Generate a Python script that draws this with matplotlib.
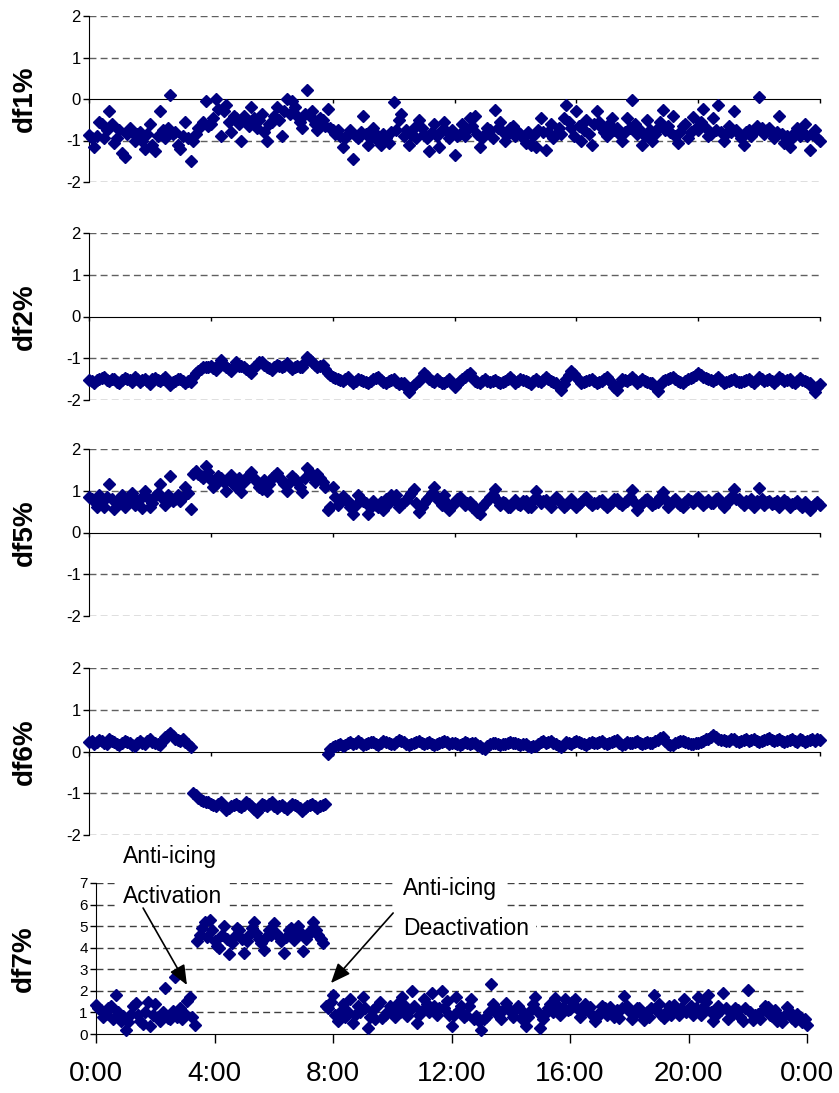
import numpy as np
import matplotlib
matplotlib.use('Agg')
import matplotlib.pyplot as plt

plt.rcParams['font.family'] = ['Liberation Sans', 'DejaVu Sans']
plt.rcParams['axes.unicode_minus'] = False

# 5-minute samples over one day
minutes = np.arange(0, 24 * 60 + 1, 5)
hours = minutes / 60.0

df1 = [-0.87, -0.95, -1.15, -0.9, -0.55, -0.6, -0.95, -0.75, -0.3, -0.6, -1.05, -0.95, -0.75, -1.3, -1.4, -0.85, -0.7, -0.8, -1.0, -0.85,
       -0.8, -1.0, -1.2, -0.85, -0.6, -1.1, -1.25, -0.9, -0.3, -0.75, -0.95, -0.7, 0.1, -0.85, -0.8, -1.1, -1.2, -0.9, -0.55, -0.95,
       -1.5, -1.0, -0.85, -0.7, -0.65, -0.55, -0.05, -0.65, -0.6, -0.45, 0.0, -0.25, -0.9, -0.3, -0.15, -0.55, -0.8, -0.4, -0.45, -0.6,
       -1.0, -0.4, -0.55, -0.65, -0.2, -0.45, -0.7, -0.5, -0.35, -0.8, -1.0, -0.6, -0.55, -0.4, -0.2, -0.5, -0.9, -0.3, 0.0, -0.35,
       -0.05, -0.2, -0.4, -0.55, -0.7, -0.35, 0.22, -0.4, -0.3, -0.6, -0.75, -0.45, -0.5, -0.65, -0.25, -0.7, -0.75, -0.85, -0.75, -0.9,
       -1.15, -0.95, -0.85, -0.75, -1.45, -0.9, -0.95, -0.8, -0.4, -0.85, -1.1, -0.95, -0.7, -0.85, -1.0, -1.1, -0.85, -0.95, -1.05, -0.8,
       -0.07, -0.75, -0.5, -0.35, -0.9, -0.75, -1.1, -0.85, -0.7, -0.95, -0.5, -0.7, -0.85, -0.95, -1.25, -0.8, -0.6, -0.9, -1.15, -0.75,
       -0.55, -0.8, -0.95, -0.75, -1.35, -0.9, -0.85, -0.6, -0.9, -0.75, -0.45, -0.65, -0.4, -0.85, -1.15, -0.95, -0.85, -0.7, -0.75, -0.95,
       -0.27, -0.7, -0.55, -0.8, -1.0, -0.85, -0.7, -0.65, -0.9, -0.8, -0.85, -0.95, -1.05, -0.8, -1.1, -0.9, -1.15, -0.75, -0.45, -0.8,
       -1.23, -0.8, -0.6, -0.95, -0.85, -0.7, -0.85, -0.45, -0.15, -0.55, -0.7, -0.9, -0.28, -0.65, -1.0, -0.75, -0.5, -0.85, -1.1, -0.6,
       -0.3, -0.55, -0.7, -0.8, -0.9, -0.6, -0.45, -0.75, -0.7, -0.85, -1.0, -0.8, -0.45, -0.7, -0.03, -0.6, -0.85, -0.75, -1.1, -0.9,
       -0.5, -0.75, -1.0, -0.85, -0.7, -0.55, -0.27, -0.75, -0.65, -0.8, -0.4, -0.9, -1.07, -0.8, -0.65, -0.6, -0.95, -0.8, -0.43, -0.7,
       -0.75, -0.55, -0.25, -0.7, -0.9, -0.85, -0.45, -0.75, -0.15, -0.8, -1.0, -0.85, -0.65, -0.8, -0.3, -0.75, -0.85, -0.95, -1.1, -0.8,
       -0.75, -0.9, -0.8, -0.65, 0.05, -0.7, -0.85, -0.75, -0.7, -0.85, -0.95, -0.8, -0.4, -0.85, -1.07, -0.9, -1.15, -0.95, -0.8, -0.7,
       -0.9, -0.8, -0.6, -0.9, -1.23, -0.85, -0.75, -0.95, -1.0]

df2 = [-1.52, -1.55, -1.6, -1.52, -1.5, -1.48, -1.45, -1.52, -1.55, -1.5, -1.5, -1.56, -1.6, -1.52, -1.48, -1.5, -1.52, -1.58, -1.45, -1.5,
       -1.58, -1.52, -1.5, -1.55, -1.62, -1.5, -1.48, -1.53, -1.55, -1.5, -1.45, -1.58, -1.65, -1.56, -1.55, -1.5, -1.5, -1.55, -1.6, -1.55,
       -1.58, -1.45, -1.35, -1.3, -1.25, -1.22, -1.22, -1.2, -1.18, -1.24, -1.28, -1.15, -1.05, -1.15, -1.2, -1.25, -1.3, -1.2, -1.1, -1.18,
       -1.18, -1.2, -1.25, -1.3, -1.35, -1.22, -1.15, -1.1, -1.08, -1.15, -1.2, -1.24, -1.28, -1.2, -1.15, -1.18, -1.22, -1.18, -1.12, -1.2,
       -1.25, -1.2, -1.18, -1.22, -1.2, -1.1, -0.97, -1.05, -1.1, -1.15, -1.22, -1.18, -1.15, -1.25, -1.35, -1.4, -1.45, -1.48, -1.5, -1.52,
       -1.55, -1.5, -1.45, -1.52, -1.6, -1.55, -1.5, -1.52, -1.55, -1.58, -1.6, -1.55, -1.5, -1.48, -1.45, -1.52, -1.58, -1.6, -1.55, -1.52,
       -1.5, -1.58, -1.62, -1.6, -1.6, -1.7, -1.82, -1.72, -1.65, -1.6, -1.55, -1.45, -1.35, -1.42, -1.5, -1.55, -1.58, -1.5, -1.55, -1.6,
       -1.6, -1.55, -1.5, -1.6, -1.7, -1.62, -1.55, -1.5, -1.45, -1.4, -1.35, -1.45, -1.55, -1.58, -1.6, -1.55, -1.5, -1.55, -1.58, -1.55,
       -1.52, -1.56, -1.6, -1.58, -1.55, -1.5, -1.45, -1.52, -1.6, -1.55, -1.5, -1.53, -1.55, -1.58, -1.62, -1.55, -1.5, -1.55, -1.58, -1.52,
       -1.45, -1.5, -1.55, -1.58, -1.6, -1.68, -1.75, -1.62, -1.5, -1.4, -1.3, -1.38, -1.45, -1.52, -1.6, -1.58, -1.55, -1.52, -1.5, -1.55,
       -1.6, -1.58, -1.55, -1.5, -1.45, -1.52, -1.6, -1.68, -1.75, -1.62, -1.5, -1.52, -1.55, -1.5, -1.45, -1.52, -1.6, -1.55, -1.5, -1.55,
       -1.58, -1.6, -1.6, -1.7, -1.78, -1.65, -1.55, -1.52, -1.5, -1.48, -1.45, -1.5, -1.55, -1.58, -1.6, -1.55, -1.5, -1.48, -1.45, -1.4,
       -1.35, -1.4, -1.45, -1.48, -1.5, -1.52, -1.55, -1.5, -1.45, -1.52, -1.6, -1.58, -1.55, -1.52, -1.5, -1.55, -1.58, -1.56, -1.55, -1.52,
       -1.5, -1.55, -1.6, -1.52, -1.45, -1.5, -1.55, -1.52, -1.5, -1.55, -1.6, -1.52, -1.45, -1.5, -1.55, -1.52, -1.5, -1.56, -1.6, -1.55,
       -1.48, -1.52, -1.55, -1.58, -1.6, -1.7, -1.8, -1.7, -1.62]

df5 = [0.84, 0.8, 0.75, 0.62, 0.9, 0.75, 0.6, 0.85, 1.16, 0.8, 0.57, 0.7, 0.8, 0.9, 0.6, 0.75, 0.82, 0.95, 0.65, 0.75,
       0.8, 0.58, 1.0, 0.85, 0.6, 0.7, 0.88, 0.95, 1.15, 0.8, 0.65, 0.9, 1.35, 0.75, 0.8, 0.9, 0.75, 0.85, 1.08, 0.95,
       0.57, 1.4, 1.47, 1.4, 1.35, 1.3, 1.6, 1.45, 1.25, 1.1, 1.15, 1.35, 1.3, 1.2, 1.0, 1.25, 1.38, 1.15, 1.1, 1.3,
       0.96, 1.2, 1.3, 1.38, 1.45, 1.3, 1.2, 1.1, 1.05, 1.25, 1.0, 1.15, 1.3, 1.35, 1.42, 1.3, 1.25, 1.15, 1.0, 1.2,
       1.35, 1.28, 1.2, 1.1, 0.98, 1.3, 1.55, 1.45, 1.35, 1.2, 1.4, 1.3, 1.2, 1.1, 0.53, 0.6, 1.1, 0.85, 0.65, 0.75,
       0.88, 0.8, 0.75, 0.6, 0.45, 0.65, 0.9, 0.8, 0.75, 0.7, 0.45, 0.6, 0.75, 0.65, 0.6, 0.72, 0.55, 0.8, 0.7, 0.9,
       0.8, 0.9, 0.6, 0.68, 0.72, 0.78, 0.88, 0.95, 1.05, 0.7, 0.48, 0.62, 0.7, 0.8, 0.85, 0.95, 1.08, 0.85, 0.75, 0.65,
       0.9, 0.7, 0.55, 0.65, 0.7, 0.8, 0.85, 0.75, 0.65, 0.7, 0.72, 0.6, 0.6, 0.5, 0.45, 0.6, 0.7, 0.75, 0.85, 0.9,
       1.05, 0.75, 0.65, 0.72, 0.7, 0.62, 0.6, 0.7, 0.78, 0.68, 0.65, 0.75, 0.75, 0.62, 0.6, 0.78, 1.0, 0.8, 0.7, 0.75,
       0.78, 0.7, 0.62, 0.75, 0.85, 0.78, 0.7, 0.62, 0.65, 0.72, 0.8, 0.7, 0.6, 0.68, 0.72, 0.8, 0.85, 0.72, 0.65, 0.7,
       0.7, 0.75, 0.78, 0.68, 0.6, 0.65, 0.72, 0.8, 0.8, 0.7, 0.65, 0.72, 0.75, 0.85, 1.02, 0.7, 0.55, 0.65, 0.7, 0.78,
       0.8, 0.72, 0.65, 0.7, 0.72, 0.85, 0.98, 0.8, 0.6, 0.68, 0.75, 0.8, 0.7, 0.65, 0.62, 0.72, 0.8, 0.75, 0.7, 0.8,
       0.85, 0.75, 0.65, 0.72, 0.78, 0.7, 0.7, 0.8, 0.82, 0.7, 0.6, 0.72, 0.75, 0.85, 1.05, 0.8, 0.8, 0.72, 0.65, 0.75,
       0.72, 0.8, 0.6, 0.75, 1.06, 0.8, 0.65, 0.72, 0.75, 0.68, 0.7, 0.75, 0.62, 0.7, 0.78, 0.72, 0.6, 0.68, 0.7, 0.75,
       0.65, 0.6, 0.72, 0.65, 0.55, 0.62, 0.68, 0.72, 0.65]

df6 = [0.22, 0.25, 0.18, 0.22, 0.28, 0.25, 0.2, 0.18, 0.3, 0.25, 0.22, 0.18, 0.15, 0.2, 0.25, 0.22, 0.2, 0.15, 0.12, 0.2,
       0.25, 0.2, 0.18, 0.25, 0.3, 0.22, 0.2, 0.18, 0.15, 0.25, 0.35, 0.4, 0.45, 0.38, 0.3, 0.28, 0.25, 0.3, 0.22, 0.18,
       0.1, -1.0, -1.05, -1.12, -1.15, -1.18, -1.2, -1.22, -1.25, -1.28, -1.3, -1.25, -1.22, -1.3, -1.4, -1.35, -1.3, -1.28, -1.25, -1.3,
       -1.32, -1.28, -1.2, -1.25, -1.3, -1.38, -1.45, -1.35, -1.25, -1.28, -1.3, -1.25, -1.22, -1.3, -1.35, -1.3, -1.28, -1.32, -1.38, -1.3,
       -1.25, -1.28, -1.3, -1.35, -1.42, -1.35, -1.3, -1.28, -1.25, -1.3, -1.35, -1.3, -1.28, -1.25, -0.05, 0.05, 0.1, 0.12, 0.15, 0.18,
       0.12, 0.15, 0.2, 0.22, 0.18, 0.2, 0.25, 0.2, 0.15, 0.18, 0.2, 0.22, 0.22, 0.18, 0.15, 0.2, 0.25, 0.22, 0.2, 0.18,
       0.18, 0.22, 0.28, 0.25, 0.22, 0.18, 0.15, 0.18, 0.2, 0.22, 0.25, 0.2, 0.18, 0.2, 0.22, 0.18, 0.15, 0.18, 0.2, 0.22,
       0.25, 0.22, 0.18, 0.2, 0.2, 0.18, 0.15, 0.18, 0.22, 0.2, 0.18, 0.2, 0.2, 0.15, 0.12, 0.08, 0.05, 0.12, 0.18, 0.2,
       0.2, 0.18, 0.15, 0.18, 0.18, 0.2, 0.22, 0.2, 0.2, 0.18, 0.15, 0.18, 0.18, 0.12, 0.1, 0.12, 0.12, 0.18, 0.22, 0.25,
       0.2, 0.22, 0.25, 0.2, 0.18, 0.12, 0.1, 0.15, 0.22, 0.2, 0.18, 0.22, 0.25, 0.22, 0.2, 0.18, 0.15, 0.2, 0.22, 0.2,
       0.2, 0.22, 0.25, 0.2, 0.18, 0.2, 0.22, 0.25, 0.28, 0.2, 0.15, 0.18, 0.22, 0.2, 0.2, 0.22, 0.25, 0.2, 0.18, 0.2,
       0.22, 0.2, 0.2, 0.25, 0.28, 0.32, 0.35, 0.25, 0.18, 0.15, 0.15, 0.2, 0.22, 0.25, 0.25, 0.22, 0.2, 0.18, 0.18, 0.2,
       0.2, 0.22, 0.25, 0.3, 0.3, 0.35, 0.4, 0.35, 0.3, 0.28, 0.28, 0.25, 0.25, 0.3, 0.3, 0.25, 0.22, 0.25, 0.28, 0.3,
       0.25, 0.28, 0.3, 0.25, 0.22, 0.25, 0.28, 0.3, 0.32, 0.28, 0.25, 0.28, 0.3, 0.25, 0.22, 0.25, 0.28, 0.3, 0.25, 0.22,
       0.3, 0.28, 0.22, 0.25, 0.28, 0.3, 0.25, 0.3, 0.28]

df7 = [1.36, 1.2, 1.1, 0.8, 0.95, 1.2, 1.28, 0.7, 1.8, 1.0, 0.6, 0.85, 0.2, 0.55, 0.95, 1.3, 1.42, 0.9, 0.6, 0.45,
       1.0, 1.5, 0.35, 0.9, 1.4, 0.8, 0.6, 1.0, 2.15, 0.75, 0.7, 1.05, 2.65, 0.8, 1.2, 0.7, 0.95, 1.55, 1.7, 0.8,
       0.43, 4.3, 4.6, 4.9, 5.2, 4.5, 5.3, 4.8, 4.3, 4.1, 4.0, 4.6, 5.0, 4.4, 3.7, 4.2, 4.5, 4.9, 4.8, 4.4,
       3.75, 4.3, 4.6, 4.9, 5.2, 4.7, 4.4, 4.2, 3.9, 4.5, 4.8, 4.6, 5.15, 4.7, 4.5, 4.3, 3.75, 4.5, 4.8, 4.9,
       4.35, 4.6, 5.0, 4.7, 3.85, 4.4, 4.6, 4.8, 5.2, 4.8, 4.6, 4.4, 4.2, 1.3, 1.2, 1.5, 1.8, 0.9, 0.6, 1.0,
       1.4, 0.8, 1.0, 1.6, 0.5, 0.9, 1.3, 1.0, 1.7, 1.2, 0.3, 0.8, 1.1, 0.7, 1.3, 1.5, 0.75, 0.9, 1.0, 1.3,
       1.15, 0.8, 1.4, 1.0, 1.7, 1.3, 0.85, 1.1, 2.0, 1.3, 0.5, 0.9, 1.05, 1.6, 1.4, 1.0, 1.9, 1.3, 0.9, 1.2,
       1.98, 1.2, 1.55, 0.9, 0.35, 0.9, 1.7, 1.1, 1.3, 0.8, 0.9, 1.3, 1.6, 0.7, 0.85, 0.6, 0.2, 0.7, 0.8, 1.0,
       2.3, 1.4, 1.2, 0.9, 0.7, 1.1, 1.45, 1.2, 1.0, 0.8, 1.15, 1.3, 0.75, 1.0, 0.35, 0.8, 1.1, 1.4, 1.7, 1.0,
       0.3, 0.7, 0.95, 1.2, 1.4, 1.0, 1.65, 1.3, 0.9, 1.2, 1.6, 1.1, 1.15, 1.5, 1.6, 1.2, 0.8, 1.0, 1.4, 1.1,
       1.25, 0.9, 0.6, 0.8, 1.0, 1.3, 1.2, 0.9, 1.25, 1.0, 0.8, 1.1, 0.75, 1.2, 1.75, 1.3, 1.05, 0.7, 0.9, 1.2,
       1.2, 0.9, 0.65, 1.0, 0.8, 1.2, 1.8, 1.1, 1.4, 0.9, 0.75, 1.0, 1.3, 0.9, 1.35, 1.1, 0.9, 1.2, 1.6, 1.0,
       1.1, 1.3, 0.9, 1.2, 1.7, 0.9, 1.25, 1.5, 1.8, 1.0, 0.6, 0.9, 1.3, 1.1, 1.9, 1.2, 0.7, 1.0, 0.95, 1.2,
       1.1, 0.8, 0.6, 1.2, 2.05, 1.0, 0.65, 0.9, 0.95, 0.7, 1.1, 1.3, 1.25, 0.9, 0.85, 1.1, 0.6, 0.8, 0.55, 0.9,
       1.25, 1.0, 0.75, 0.6, 0.95, 0.8, 0.55, 0.7, 0.43]

upper_series = [('df1%', df1), ('df2%', df2), ('df5%', df5), ('df6%', df6)]
time_ticks = [0, 4, 8, 12, 16, 20, 24]
time_labels = ['0:00', '4:00', '8:00', '12:00', '16:00', '20:00', '0:00']

navy = '#000080'
dash = (0, (5, 3))

fig = plt.figure(figsize=(8.39, 10.93), dpi=100)
W, H = 839.0, 1093.0

# upper four panels: (top px, bottom px)
rows = [(16, 182), (233, 400), (449, 616), (668, 835)]
for (name, vals), (top, bot) in zip(upper_series, rows):
    ax = fig.add_axes([89 / W, 1 - bot / H, 731 / W, (bot - top) / H])
    ax.plot(hours, vals, 'D', ms=6, color=navy, mec=navy, clip_on=False, zorder=3)
    ax.set_xlim(0, 24)
    ax.set_ylim(-2, 2)
    ax.set_yticks([-2, -1, 0, 1, 2])
    ax.set_xticks(time_ticks)
    ax.set_xticklabels([])
    for y in [-2, -1, 1, 2]:
        ax.axhline(y, color='#606060', lw=1, ls=dash, zorder=1)
    for s in ['top', 'right']:
        ax.spines[s].set_visible(False)
    ax.spines['bottom'].set_position(('data', 0))
    ax.spines['bottom'].set_zorder(2)
    ax.tick_params(axis='x', direction='out', length=3, width=1)
    ax.tick_params(axis='y', direction='out', length=4, width=1, labelsize=12, pad=2)
    ax.set_ylabel(name, fontsize=20, fontweight='bold', va='center')
    ax.yaxis.set_label_coords(-0.088, 0.5)

# bottom panel: df7
top, bot = 883, 1034
ax5 = fig.add_axes([96 / W, 1 - bot / H, 711 / W, (bot - top) / H])
ax5.plot(hours, df7, 'D', ms=6, color=navy, mec=navy, clip_on=False, zorder=3)
ax5.set_xlim(0, 24)
ax5.set_ylim(0, 7)
ax5.set_yticks(range(8))
for y in range(1, 8):
    ax5.axhline(y, color='#404040', lw=1, ls=dash, zorder=1)
for s in ['top', 'right']:
    ax5.spines[s].set_visible(False)
ax5.set_xticks(time_ticks)
ax5.set_xticklabels(time_labels)
ax5.tick_params(axis='x', direction='out', length=6.5, width=1, labelsize=20, pad=13)
ax5.tick_params(axis='y', direction='out', length=4, width=1, labelsize=11, pad=2)
ax5.set_ylabel('df7%', fontsize=20, fontweight='bold', va='center')
ax5.yaxis.set_label_coords(-0.101, 0.5)

box = dict(facecolor='white', edgecolor='none', pad=5)
txt = dict(fontsize=16.5, ha='left', va='baseline', clip_on=False, zorder=2, bbox=box)
ax5.text(0.91, 7.93, 'Anti-icing', **txt)
ax5.text(0.91, 6.07, 'Activation', **txt)
ax5.text(10.36, 6.44, 'Anti-icing', **txt)
ax5.text(10.36, 4.59, 'Deactivation', **txt)

arrow = dict(arrowstyle='-|>,head_length=1.2,head_width=0.5', color='black', lw=1.2,
             shrinkA=0, shrinkB=0)
ax5.annotate('', xy=(3.07, 2.27), xytext=(1.59, 5.84), arrowprops=arrow,
             annotation_clip=False, zorder=4)
ax5.annotate('', xy=(7.93, 2.36), xytext=(10.03, 5.61), arrowprops=arrow,
             annotation_clip=False, zorder=4)

fig.savefig('out.png', dpi=100)
